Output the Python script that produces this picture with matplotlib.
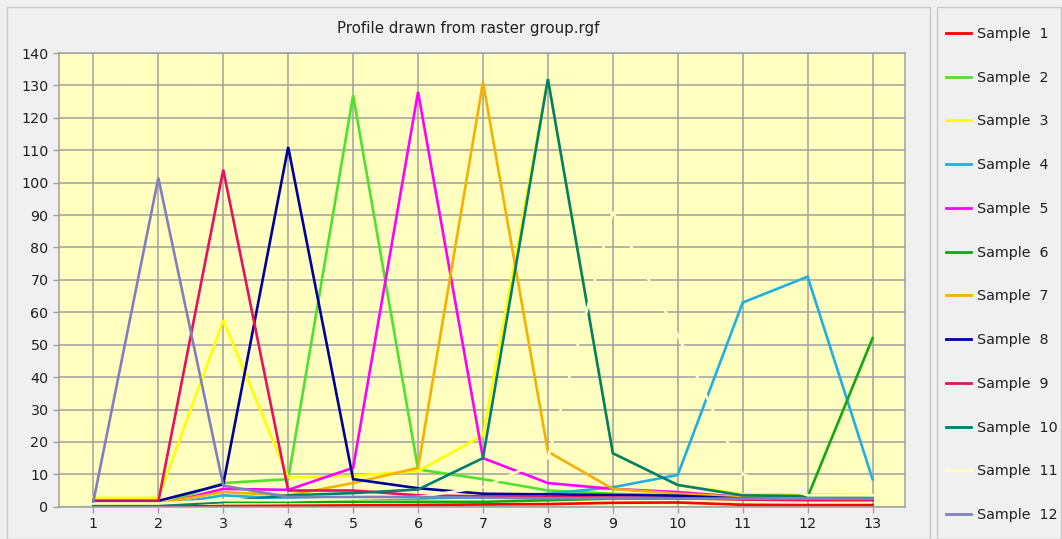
import matplotlib
matplotlib.use("Agg")
import matplotlib.pyplot as plt
from matplotlib.patches import Rectangle
from matplotlib.lines import Line2D

plt.rcParams['font.family'] = ['DejaVu Sans']

# x positions along the profile
positions = [1, 2, 3, 4, 5, 6, 7, 8, 9, 10, 11, 12, 13]

# values, one list per sample
sample1 = [0, 0, 0.2, 0.3, 0.4, 0.5, 0.7, 0.8, 1.2, 1.3, 0.6, 0.5, 0.5]
sample2 = [0.5, 0.5, 7.3, 8.5, 127, 11.5, 8.5, 5, 4, 3.5, 3, 2.5, 2.5]
sample3 = [2.7, 2.7, 57.5, 9, 9.5, 11, 22, 132, 16.5, 6.7, 3.8, 3.8, 3.6]
sample4 = [0.3, 0.3, 3.5, 2.5, 2.5, 2.5, 3, 4, 6, 9.8, 63, 71, 8.5]
sample5 = [0.5, 0.5, 5.5, 5.2, 12, 128, 15, 7.3, 5.5, 4.5, 3, 2.5, 2.5]
sample6 = [0.5, 0.5, 1.5, 1.5, 1.5, 1.5, 1.5, 2, 2.5, 2.5, 3, 3, 52]
sample7 = [1, 1, 4.5, 3.5, 7.3, 12, 131, 17, 5.5, 4, 3, 2.5, 2.5]
sample8 = [1.8, 1.8, 6.9, 111, 8.5, 5.7, 4, 3.8, 3.6, 3.4, 2.5, 2.2, 2.2]
sample9 = [1.6, 1.6, 104, 5, 5, 3.5, 3.2, 3, 2.8, 2.6, 2.2, 2, 2]
sample10 = [0.2, 0.2, 1.5, 3.5, 4.2, 5.3, 15, 132, 16.5, 6.7, 3.5, 3.3, 2.8]
sample11 = [1, 1, 2, 2, 2.5, 3, 6, 15, 91, 53, 10, 3.5, 3.5]
sample12 = [1.6, 101.5, 6.5, 3, 3, 3, 2.8, 2.6, 2.6, 2.5, 2.5, 2.5, 2.5]

series = [sample1, sample2, sample3, sample4, sample5, sample6,
          sample7, sample8, sample9, sample10, sample11, sample12]
labels = ['Sample  %d' % (i + 1) for i in range(12)]
colors = ['#FF0000', '#50E030', '#FFFF00', '#20B0E0', '#FF00FF', '#12A812',
          '#F8B000', '#00009C', '#E81060', '#007F70', '#FFFFC0', '#8080C0']

fig = plt.figure(figsize=(10.62, 5.39), dpi=100)
fig.patch.set_facecolor('#F0F0F0')

# panel borders
fig.add_artist(Rectangle((7 / 1062, 0), 923 / 1062, 532 / 539, transform=fig.transFigure,
                         fill=False, edgecolor='#C8C8C8', lw=1))
fig.add_artist(Rectangle((937 / 1062, 0), 124 / 1062, 532 / 539, transform=fig.transFigure,
                         fill=False, edgecolor='#C8C8C8', lw=1))

ax = fig.add_axes([59 / 1062, 1 - 506.7 / 539, 846 / 1062, 453.6 / 539])
ax.set_facecolor('#FFFFC0')

for vals, col, lab in zip(series, colors, labels):
    ax.plot(positions, vals, color=col, lw=1.9, label=lab, solid_joinstyle='miter')

ax.set_xlim(0.47, 13.5)
ax.set_ylim(0, 140)
ax.set_xticks(positions)
ax.set_yticks(range(0, 141, 10))
ax.set_axisbelow(True)
ax.grid(True, color='#A0A0A0', lw=1.1)
for s in ax.spines.values():
    s.set_color('#A0A0A0')
    s.set_linewidth(1.1)
ax.tick_params(colors='#A0A0A0', labelcolor='#202020', labelsize=10.3, length=4, width=1)

fig.text(468 / 1062, 1 - 28 / 539, 'Profile drawn from raster group.rgf',
         ha='center', va='center', fontsize=10.8, color='#202020')

handles = [Line2D([], [], color=c, lw=2) for c in colors]
fig.legend(handles, labels, loc='upper left', bbox_to_anchor=(933 / 1062, 1 - 14 / 539),
           frameon=False, fontsize=10.3, labelspacing=2.08, handlelength=1.75,
           handletextpad=0.45, labelcolor='#202020')

fig.savefig('out.png', dpi=100, facecolor=fig.get_facecolor())
